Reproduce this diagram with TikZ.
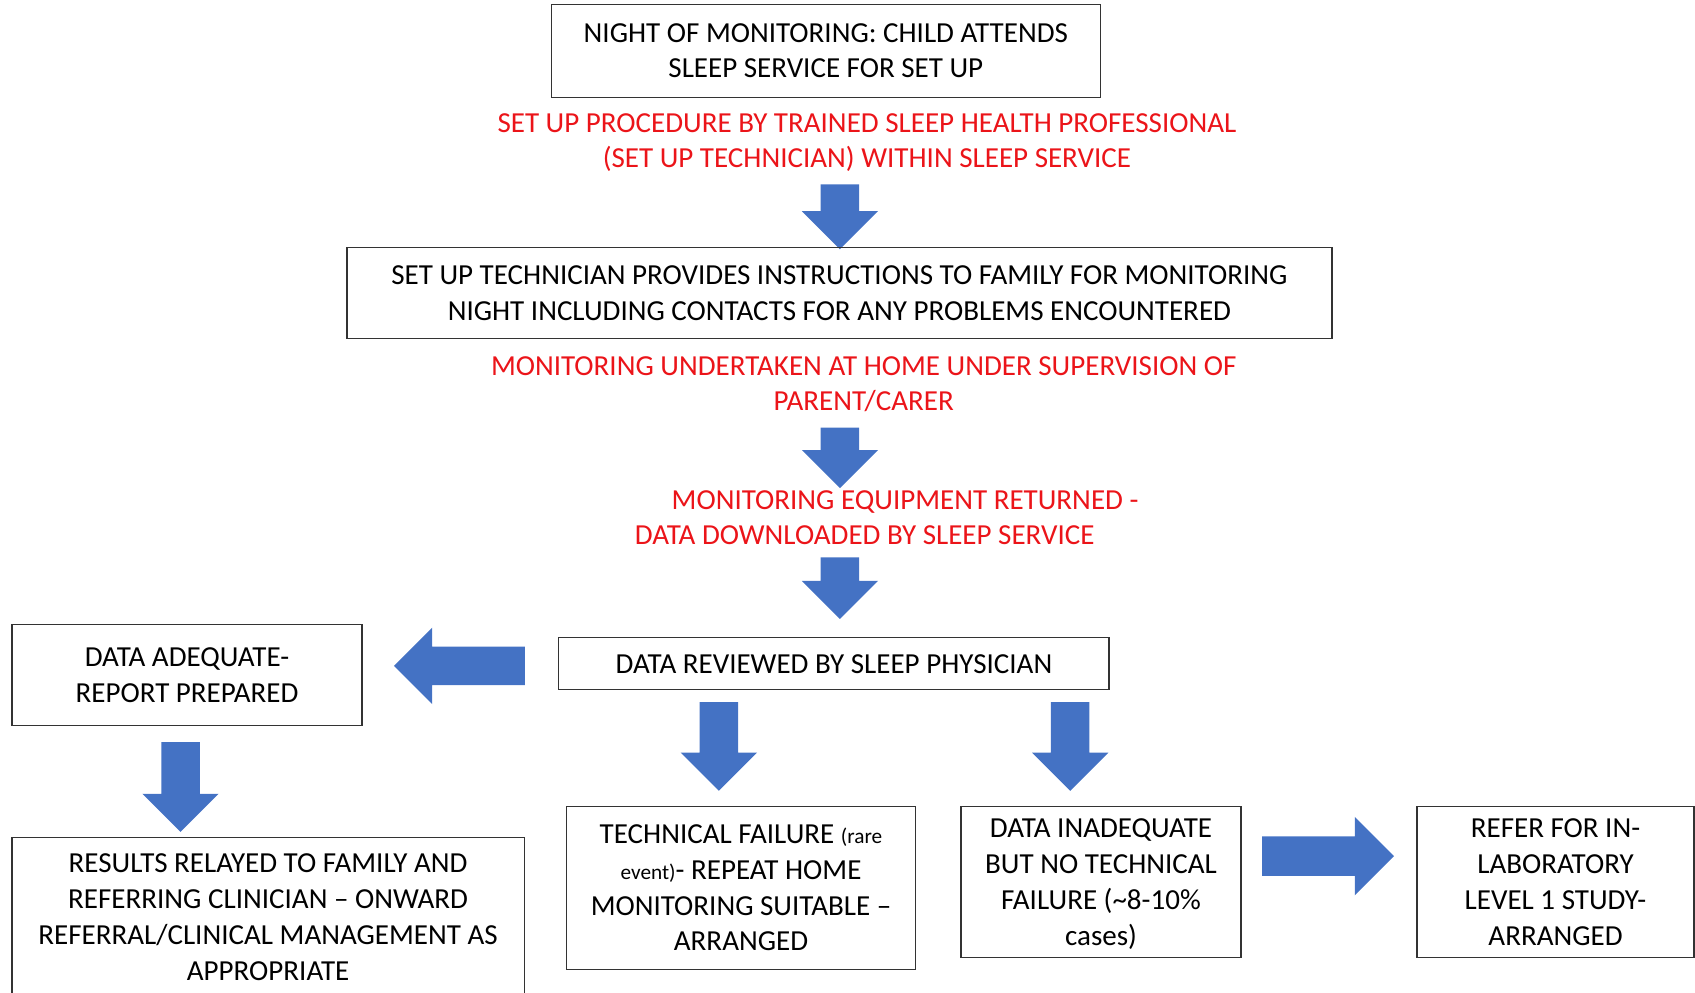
\documentclass[tikz,border=0pt]{standalone}
\usepackage{fontspec}
\setmainfont{Carlito}
\usetikzlibrary{shapes.arrows}
\definecolor{arrowblue}{RGB}{68,114,196}
\definecolor{notered}{RGB}{235,20,25}
\tikzstyle{box} = [rectangle, draw=black!80, line width=0.9pt, align=center, inner sep=0pt, font=\fontsize{19.1}{23.5}\selectfont]
\tikzstyle{note} = [align=center, inner sep=0pt, text=notered, font=\fontsize{19.1}{23.5}\selectfont]
\tikzstyle{fat} = [single arrow, draw=none, fill=arrowblue, inner sep=0pt, text height=0.875cm, text depth=0pt, single arrow head extend=0.4375cm, single arrow head indent=0pt, anchor=tip]
\newcommand{\smalltxt}[1]{{\fontsize{14}{23.5}\selectfont #1}}

\begin{document}
\begin{tikzpicture}[x=0.025cm, y=-0.025cm]
\clip (0,0) rectangle (1568,918);

\node [box, minimum width=12.7cm, minimum height=2.15cm] (top) at (764,47) {NIGHT OF MONITORING: CHILD ATTENDS\\SLEEP SERVICE FOR SET UP};
\node [note] (setup) at (802,132) {SET UP PROCEDURE BY TRAINED SLEEP HEALTH PROFESSIONAL\\(SET UP TECHNICIAN) WITHIN SLEEP SERVICE};
\node [fat, rotate=-90, minimum height=1.5cm] (a1) at (777,231) {};

\node [box, minimum width=22.775cm, minimum height=2.1cm] (instr) at (776.5,271) {SET UP TECHNICIAN PROVIDES INSTRUCTIONS TO FAMILY FOR MONITORING\\NIGHT INCLUDING CONTACTS FOR ANY PROBLEMS ENCOUNTERED};
\node [note] (home) at (799,355.5) {MONITORING UNDERTAKEN AT HOME UNDER SUPERVISION OF\\PARENT/CARER};
\node [fat, rotate=-90, minimum height=1.4cm] (a2) at (777,452) {};

\node [note, align=left, anchor=west] (returned) at (587,479) {\hspace*{1.27em}MONITORING EQUIPMENT RETURNED -\\DATA DOWNLOADED BY SLEEP SERVICE};
\node [fat, rotate=-90, minimum height=1.425cm] (a3) at (777,573) {};

\node [box, minimum width=12.725cm, minimum height=1.2cm] (review) at (771.5,614) {DATA REVIEWED BY SLEEP PHYSICIAN};

% left branch
\node [fat, rotate=180, minimum height=3.025cm] (aL) at (364,616) {};
\node [box, minimum width=8.1cm, minimum height=2.325cm] (adequate) at (173,624.5) {DATA ADEQUATE-\\REPORT PREPARED};
\node [fat, rotate=-90, minimum height=2.075cm] (aD1) at (167,770) {};
\node [box, minimum width=11.85cm, minimum height=3.675cm] (results) at (248,848.5) {RESULTS RELAYED TO FAMILY AND\\REFERRING CLINICIAN -- ONWARD\\REFERRAL/CLINICAL MANAGEMENT AS\\APPROPRIATE};

% lower branches
\node [fat, rotate=-90, minimum height=2.05cm] (aD2) at (665,732) {};
\node [box, minimum width=8.075cm, minimum height=3.775cm] (tech) at (685.5,821.5) {TECHNICAL FAILURE \smalltxt{(rare}\\\smalltxt{event)}- REPEAT HOME\\MONITORING SUITABLE --\\ARRANGED};

\node [fat, rotate=-90, minimum height=2.05cm] (aD3) at (990,732) {};
\node [box, minimum width=6.475cm, minimum height=3.5cm, text depth=-0.2cm] (inadequate) at (1018.5,816) {DATA INADEQUATE\\BUT NO TECHNICAL\\FAILURE (\textasciitilde 8-10\%\\cases)};

\node [fat, minimum height=3.05cm, text height=0.9cm, single arrow head extend=0.45cm] (aR) at (1290,792) {};
\node [box, minimum width=6.4cm, minimum height=3.5cm, text depth=-0.2cm] (refer) at (1439,816) {REFER FOR IN-\\LABORATORY\\LEVEL 1 STUDY-\\ARRANGED};
\end{tikzpicture}
\end{document}
